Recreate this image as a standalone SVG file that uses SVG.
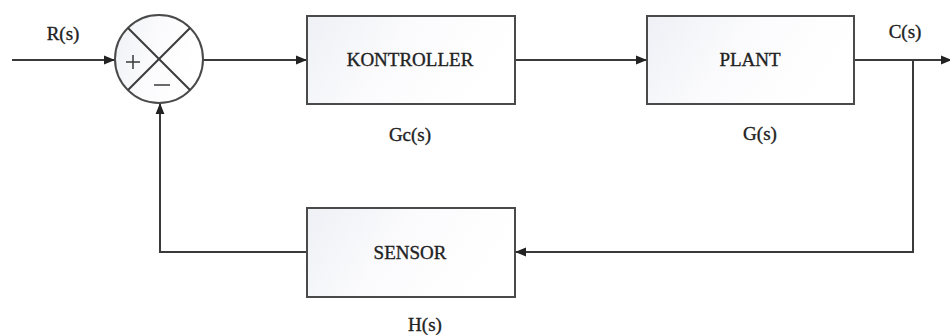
<svg xmlns="http://www.w3.org/2000/svg" width="950" height="335" viewBox="0 0 950 335">
<style>
.ln{fill:none;stroke:#3a3a3a;stroke-width:2}
.box{stroke:#4a4a4a;stroke-width:2;fill:url(#g)}
.t{font-family:"Liberation Serif","Times New Roman",serif;font-size:19px;fill:#222;stroke:#222;stroke-width:0.35;text-anchor:middle}
</style>
<defs>
<linearGradient id="g" x1="0" y1="0" x2="1" y2="0.3">
<stop offset="0" stop-color="#eef0f5"/>
<stop offset="0.5" stop-color="#fbfbfd"/>
<stop offset="1" stop-color="#ffffff"/>
</linearGradient>
<marker id="a" viewBox="0 0 10 10" refX="10" refY="5" markerWidth="11" markerHeight="11" markerUnits="userSpaceOnUse" orient="auto">
<path d="M0,1 L10,5 L0,9 Z" fill="#222"/>
</marker>
</defs>
<g id="connectors">
<line class="ln" x1="12" y1="60" x2="115" y2="60" marker-end="url(#a)"/>
<line class="ln" x1="203" y1="60" x2="307" y2="60" marker-end="url(#a)"/>
<line class="ln" x1="515" y1="60" x2="647" y2="60" marker-end="url(#a)"/>
<line class="ln" x1="854" y1="60" x2="952" y2="60" marker-end="url(#a)"/>
<polyline class="ln" points="913,60 913,252 515,252" marker-end="url(#a)"/>
<polyline class="ln" points="307,252 160,252 160,103" marker-end="url(#a)"/>
</g>
<g id="sum">
<circle cx="159" cy="59" r="44" class="box"/>
<line class="ln" x1="128" y1="28" x2="190" y2="90"/>
<line class="ln" x1="190" y1="28" x2="128" y2="90"/>
<line class="ln" x1="126" y1="62" x2="140" y2="62" style="stroke-width:1.5"/>
<line class="ln" x1="133" y1="55" x2="133" y2="69" style="stroke-width:1.5"/>
<line class="ln" x1="154" y1="85" x2="170" y2="85" style="stroke-width:1.5"/>
</g>
<g id="kontroller">
<rect x="307" y="16" width="208" height="88" class="box"/>
<text class="t" x="410" y="66">KONTROLLER</text>
<text class="t" x="410" y="141">Gc(s)</text>
</g>
<g id="plant">
<rect x="647" y="16" width="207" height="88" class="box"/>
<text class="t" x="750" y="66">PLANT</text>
<text class="t" x="760" y="140">G(s)</text>
</g>
<g id="sensor">
<rect x="307" y="208" width="208" height="89" class="box"/>
<text class="t" x="410" y="259">SENSOR</text>
<text class="t" x="425" y="331">H(s)</text>
</g>
<g id="labels">
<text class="t" x="63" y="40">R(s)</text>
<text class="t" x="905" y="38">C(s)</text>
</g>
</svg>
